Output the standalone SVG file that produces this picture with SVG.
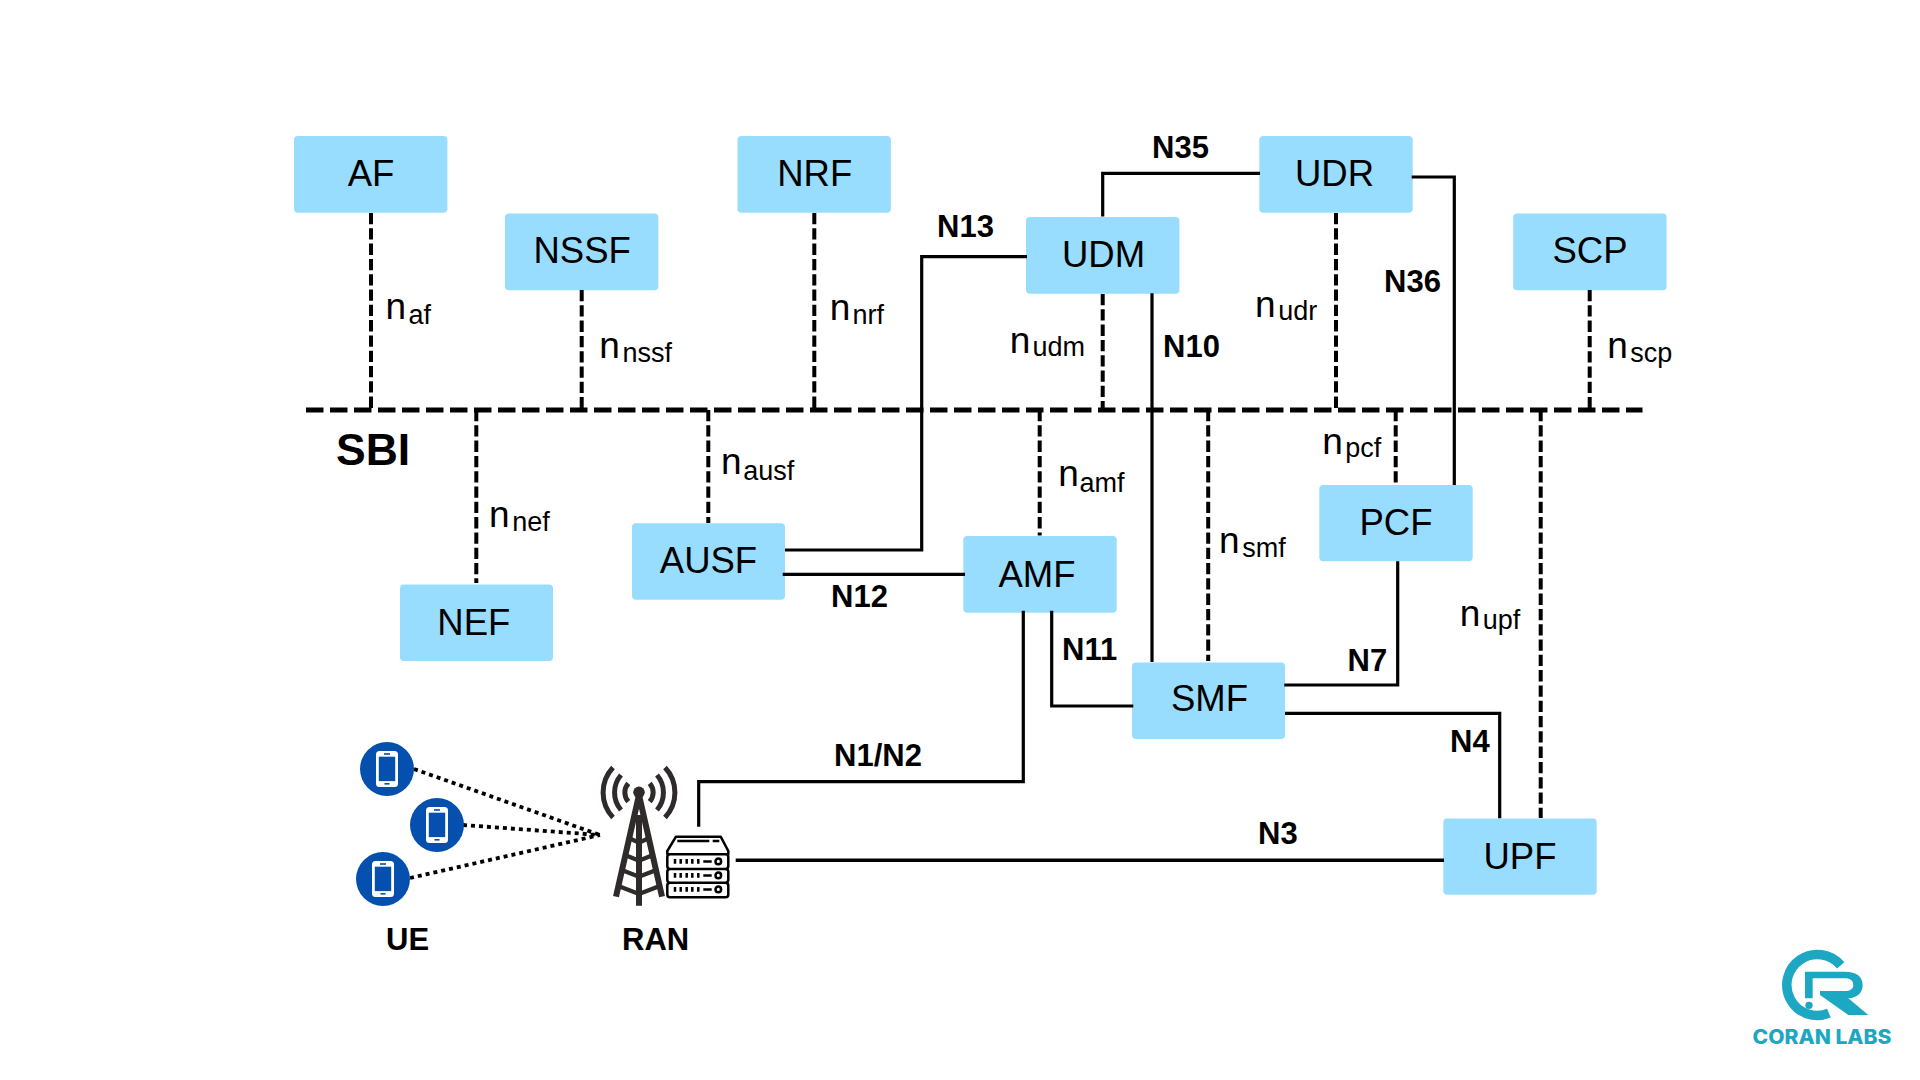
<svg xmlns="http://www.w3.org/2000/svg" width="1920" height="1080" viewBox="0 0 1920 1080">
<style>
text{font-family:"Liberation Sans",Arial,sans-serif;fill:#000}
.box{fill:#99ddfe}
.nl{font-size:36.5px;text-anchor:middle}
.n{font-size:37px}
.s{font-size:27px}
.b{font-size:31px;font-weight:700}
.sol{fill:none;stroke:#000;stroke-width:3.2}
.das{fill:none;stroke:#000;stroke-width:4;stroke-dasharray:11.3 4}
.bus{fill:none;stroke:#000;stroke-width:5;stroke-dasharray:17.5 6.5}
.dot{fill:none;stroke:#000;stroke-width:3.8;stroke-dasharray:4 4}
.uec{fill:#054fae}
.ph{fill:#fff}
.scr{fill:#054fae}
.tw{fill:none;stroke:#2e2b2a}
.sv{fill:none;stroke:#000;stroke-width:2.5;stroke-linejoin:round;stroke-linecap:butt}
.logo{fill:#1ca7c3}
</style>
<defs>
<g id="phone"><rect class="ph" x="-11" y="-18" width="22" height="36" rx="3.5"/><rect class="scr" x="-8.2" y="-12.3" width="16.4" height="24.4"/><rect class="scr" x="-3" y="-15.8" width="6" height="1.6"/><rect class="scr" x="-2.5" y="14" width="5" height="1.6"/></g>
<g id="srow"><path class="sv" d="M675 0v4.8M680.7 0v4.8M686.7 0v4.8M692.3 0v4.8M698.3 0v4.8M703.3 2.4h8.4"/><circle class="sv" cx="718.3" cy="2.4" r="2.8"/></g>
</defs>

<g id="AF"><rect class="box" x="294" y="136" width="153.4" height="76.7" rx="4"/><text class="nl" x="371" y="186">AF</text></g>
<g id="NSSF"><rect class="box" x="505" y="213.5" width="153.4" height="76.7" rx="4"/><text class="nl" x="582.2" y="263">NSSF</text></g>
<g id="NRF"><rect class="box" x="737.5" y="136" width="153.4" height="76.7" rx="4"/><text class="nl" x="814.7" y="186">NRF</text></g>
<g id="UDM"><rect class="box" x="1026" y="217" width="153.4" height="76.7" rx="4"/><text class="nl" x="1103.5" y="266.7">UDM</text></g>
<g id="UDR"><rect class="box" x="1259.3" y="136" width="153.4" height="76.7" rx="4"/><text class="nl" x="1334.5" y="186">UDR</text></g>
<g id="SCP"><rect class="box" x="1513.2" y="213.5" width="153.4" height="76.7" rx="4"/><text class="nl" x="1590" y="263">SCP</text></g>
<g id="NEF"><rect class="box" x="400" y="584.5" width="153" height="76.5" rx="4"/><text class="nl" x="473.8" y="635.3">NEF</text></g>
<g id="AUSF"><rect class="box" x="632" y="523.3" width="153" height="76.5" rx="4"/><text class="nl" x="708.5" y="573.3">AUSF</text></g>
<g id="AMF"><rect class="box" x="963.3" y="536" width="153.4" height="76.7" rx="4"/><text class="nl" x="1037" y="586.7">AMF</text></g>
<g id="PCF"><rect class="box" x="1319.3" y="485" width="153.4" height="76.3" rx="4"/><text class="nl" x="1396" y="535">PCF</text></g>
<g id="SMF"><rect class="box" x="1132" y="662.5" width="153" height="76.5" rx="4"/><text class="nl" x="1209.5" y="711">SMF</text></g>
<g id="UPF"><rect class="box" x="1443.3" y="818.5" width="153.4" height="76.3" rx="4"/><text class="nl" x="1520" y="869">UPF</text></g>

<g id="connectors">
<path class="bus" d="M306 410H1642.5"/>
<path class="das" d="M371 213V410M581.7 290V410M814.3 213V410M1102.7 294V410M1336 213V410M1589.7 290V410M476.3 410V583M708.3 410V523M1039.7 410V535.5M1208.2 410V661M1395.7 410V484M1540.7 410V818"/>
<path class="sol" d="M1102.7 216.5V173.3H1260"/>
<path class="sol" d="M1027 256.7H921.7V550H785"/>
<path class="sol" d="M1152 293.3V662"/>
<path class="sol" d="M1411.7 177H1454.3V485"/>
<path class="sol" d="M782.7 574.3H965"/>
<path class="sol" d="M1023.3 610.7V781.7H698.7V826.7"/>
<path class="sol" d="M1051.7 610.7V706H1133.3"/>
<path class="sol" d="M1284.3 685H1397.7V561.3"/>
<path class="sol" d="M1285 713.3H1499.7V818.3"/>
<path class="sol" style="stroke-width:3.6" d="M735.7 860.3H1444"/>
<path class="dot" d="M414 769L600 835M463 825L600 835M410 878L600 835"/>
</g>

<g id="interface-labels">
<text class="n" x="385.5" y="319">n</text><text class="s" x="408.5" y="323.5">af</text>
<text class="n" x="599.2" y="358">n</text><text class="s" x="622.5" y="362.3">nssf</text>
<text class="n" x="829.8" y="319.5">n</text><text class="s" x="852.5" y="323.5">nrf</text>
<text class="n" x="1009.8" y="353">n</text><text class="s" x="1032.5" y="356.3">udm</text>
<text class="n" x="1255" y="317">n</text><text class="s" x="1278.3" y="320.3">udr</text>
<text class="n" x="1607.2" y="358">n</text><text class="s" x="1630.3" y="362">scp</text>
<text class="n" x="489" y="527">n</text><text class="s" x="512.3" y="531">nef</text>
<text class="n" x="721" y="474">n</text><text class="s" x="743.3" y="479.5">ausf</text>
<text class="n" x="1058.2" y="486">n</text><text class="s" x="1079.5" y="491.5">amf</text>
<text class="n" x="1219" y="553">n</text><text class="s" x="1242.3" y="557">smf</text>
<text class="n" x="1322.2" y="454">n</text><text class="s" x="1345.3" y="457.3">pcf</text>
<text class="n" x="1459.7" y="626">n</text><text class="s" x="1482.8" y="629.3">upf</text>
<text class="b" x="1152" y="157.7">N35</text>
<text class="b" x="937" y="236.7">N13</text>
<text class="b" x="1384" y="291.7">N36</text>
<text class="b" x="1163" y="356.7">N10</text>
<text class="b" x="831" y="606.7">N12</text>
<text class="b" x="1062" y="660">N11</text>
<text class="b" x="1347.5" y="671">N7</text>
<text class="b" x="1450" y="751.7">N4</text>
<text class="b" x="1258" y="844">N3</text>
<text class="b" x="834" y="765.7">N1/N2</text>
<text x="336" y="464.5" style="font-size:44.5px;font-weight:700">SBI</text>
</g>

<g id="UE">
<circle class="uec" cx="387" cy="769" r="27"/><use href="#phone" x="387" y="769"/>
<circle class="uec" cx="437" cy="825" r="27"/><use href="#phone" x="437" y="825"/>
<circle class="uec" cx="383" cy="879" r="27"/><use href="#phone" x="383" y="879"/>
<text x="386" y="950" class="b">UE</text>
</g>

<g id="RAN">
<circle cx="639" cy="792.3" r="5.8" fill="#2e2b2a"/>
<path class="tw" stroke-width="5" d="M613 767.5A36.5 36.5 0 0 0 613 817.5M665 767.5A36.5 36.5 0 0 1 665 817.5M621 775A27 27 0 0 0 621 810M657 775A27 27 0 0 1 657 810M628.3 783.3A14 14 0 0 0 628.3 801.7M649.7 783.3A14 14 0 0 1 649.7 801.7"/>
<path class="tw" stroke-width="6" d="M639 795L616 896.7M639 795L662 896.7M639 815V905.7"/>
<path class="tw" stroke-width="4.4" d="M629.3 838.3L639 842.7L648.7 838.3M625 855L639 860.7L653 855M621.7 870L639 876.7L656.3 870M618.3 886L639 894L659.7 886"/>
<path class="sv" d="M667.3 854.3V851L676 836.7H720.7L728.3 851V854.3H667.3ZM670 854.3H725.5A2.8 2.8 0 0 1 728.3 857V866.3A2.8 2.8 0 0 1 725.5 869H670A2.8 2.8 0 0 1 667.3 866.3V857A2.8 2.8 0 0 1 670 854.3ZM670 869H725.5A2.8 2.8 0 0 1 728.3 871.8V880A2.8 2.8 0 0 1 725.5 882.7H670A2.8 2.8 0 0 1 667.3 880V871.8A2.8 2.8 0 0 1 670 869ZM670 882.7H725.5A2.8 2.8 0 0 1 728.3 885.5V894.5A2.8 2.8 0 0 1 725.5 897.3H670A2.8 2.8 0 0 1 667.3 894.5V885.5A2.8 2.8 0 0 1 670 882.7ZM677.3 841H709.3M712.7 841H719.3"/>
<use href="#srow" y="859"/><use href="#srow" y="873"/><use href="#srow" y="887"/>
<text x="622" y="950" class="b">RAN</text>
</g>

<g id="logo">
<path d="M1840.7 965.4A30.5 30.5 0 1 0 1828.9 1013.2" fill="none" stroke="#1ca7c3" stroke-width="9.5"/>
<g transform="translate(1730 930) scale(.3333)"><path class="logo" d="M225 125H345C380 125 398 140 398 165C398 188 383 203 355 205L415 255H355L270 195V183H345C360 183 370 178 370 165C370 152 360 145 345 145H248V205H225Z"/><circle class="logo" cx="237" cy="226" r="11"/></g>
<text x="1752.5" y="1044" textLength="139" lengthAdjust="spacingAndGlyphs" style="font-family:Inter,'Liberation Sans',sans-serif;font-size:20px;font-weight:800;fill:#1ca7c3">CORAN LABS</text>
</g>
</svg>
